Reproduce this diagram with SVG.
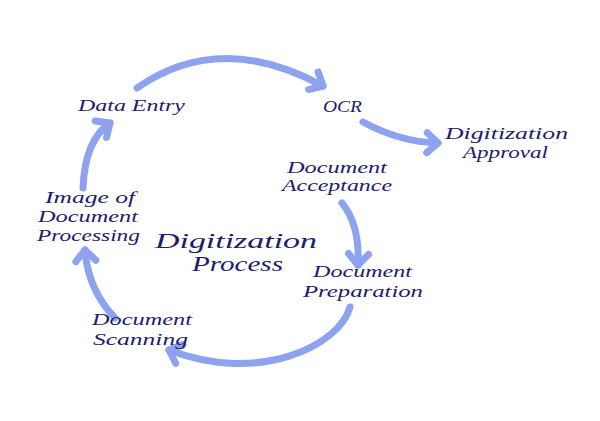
<svg xmlns="http://www.w3.org/2000/svg" width="600" height="421" viewBox="0 0 600 421">
<style>
.t{font-family:"Liberation Serif","DejaVu Serif",serif;font-style:italic;font-size:17px;fill:#1c1c70;text-anchor:middle}
.title{font-size:22px}
.c{fill:none;stroke:#8ea3ef;stroke-width:7;stroke-linecap:round}
</style>
<defs>
<marker id="ah" viewBox="-18 -16 24 32" refX="0" refY="0" markerWidth="24" markerHeight="32" markerUnits="userSpaceOnUse" orient="auto">
<path d="M-11,-10 L0,0 L-11,10" fill="none" stroke="#8ea3ef" stroke-width="7" stroke-linecap="round" stroke-linejoin="round"/>
</marker>
</defs>
<rect width="600" height="421" fill="#ffffff"/>
<g id="connectors">
<path class="c" d="M137,88 Q220,30 323,86" marker-end="url(#ah)"/>
<path class="c" d="M363,122 Q400,142 438,143" marker-end="url(#ah)"/>
<path class="c" d="M342,203 Q360,225 358,265" marker-end="url(#ah)"/>
<path class="c" d="M350,307 C340,345 260,385 169,350" marker-end="url(#ah)"/>
<path class="c" d="M115,318 Q88,290 85,250" marker-end="url(#ah)"/>
<path class="c" d="M83,188 Q85,140 110,123" marker-end="url(#ah)"/>
</g>
<g id="data-entry"><text class="t" x="131.5" y="111" textLength="107" lengthAdjust="spacingAndGlyphs">Data Entry</text></g>
<g id="ocr"><text class="t" x="342.5" y="112" textLength="39" lengthAdjust="spacingAndGlyphs">OCR</text></g>
<g id="digitization-approval">
<text class="t" x="506.5" y="139" textLength="123" lengthAdjust="spacingAndGlyphs">Digitization</text>
<text class="t" x="505.5" y="158" textLength="85" lengthAdjust="spacingAndGlyphs">Approval</text>
</g>
<g id="document-acceptance">
<text class="t" x="337" y="173" textLength="100" lengthAdjust="spacingAndGlyphs">Document</text>
<text class="t" x="337" y="191" textLength="110" lengthAdjust="spacingAndGlyphs">Acceptance</text>
</g>
<g id="image-of-document-processing">
<text class="t" x="90" y="203" textLength="90" lengthAdjust="spacingAndGlyphs">Image of</text>
<text class="t" x="88" y="222" textLength="100" lengthAdjust="spacingAndGlyphs">Document</text>
<text class="t" x="88.5" y="241" textLength="103" lengthAdjust="spacingAndGlyphs">Processing</text>
</g>
<g id="digitization-process">
<text class="t title" x="236" y="248" textLength="162" lengthAdjust="spacingAndGlyphs">Digitization</text>
<text class="t title" x="237.5" y="271" textLength="91" lengthAdjust="spacingAndGlyphs">Process</text>
</g>
<g id="document-preparation">
<text class="t" x="362.5" y="277" textLength="99" lengthAdjust="spacingAndGlyphs">Document</text>
<text class="t" x="363" y="297" textLength="120" lengthAdjust="spacingAndGlyphs">Preparation</text>
</g>
<g id="document-scanning">
<text class="t" x="142" y="325" textLength="100" lengthAdjust="spacingAndGlyphs">Document</text>
<text class="t" x="140.5" y="345" textLength="95" lengthAdjust="spacingAndGlyphs">Scanning</text>
</g>
</svg>
